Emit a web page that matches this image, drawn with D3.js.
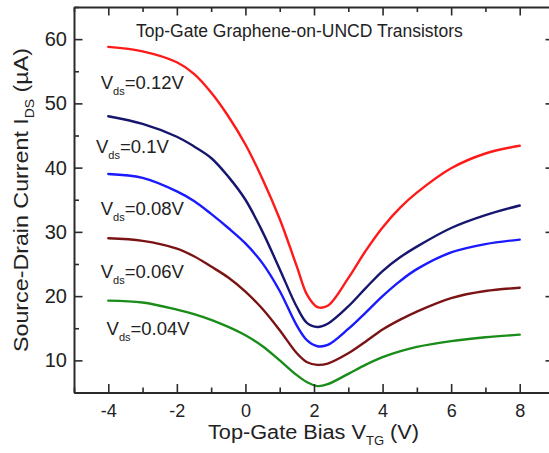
<!DOCTYPE html>
<html>
<head>
<meta charset="utf-8">
<script src="https://cdn.jsdelivr.net/npm/d3@7"></script>
<style>
  html, body { margin: 0; padding: 0; background: #fff; }
  svg { display: block; font-family: "Liberation Sans", Arial, Helvetica, sans-serif; }
</style>
</head>
<body>
<svg id="chart" width="549" height="453"></svg>
<script>
// Top-gate bias sweep (V)
const gateBias = [-4, -3, -2, -1.5, -1, -0.5, 0, 0.5, 1, 1.5, 1.8, 2.1, 2.4, 3, 3.5, 4, 4.5, 5, 6, 7, 8];

// Source-drain current (µA) for each drain bias
const ids012 = [58.8, 58.1, 56.4, 54.6, 51.7, 48.0, 43.6, 38.2, 32.0, 24.6, 20.2, 18.3, 18.5, 22.8, 27.0, 30.7, 33.7, 36.1, 39.9, 42.2, 43.4];
const ids010 = [48.0, 46.8, 44.8, 43.3, 41.5, 38.6, 35.0, 30.0, 24.2, 18.3, 15.8, 15.2, 15.7, 18.4, 21.2, 23.9, 26.0, 27.7, 30.6, 32.6, 34.1];
const ids008 = [39.0, 38.4, 36.3, 34.8, 32.8, 30.6, 28.2, 25.1, 20.8, 15.4, 13.1, 12.2, 12.4, 14.9, 17.4, 20.0, 22.3, 24.2, 26.8, 28.1, 28.8];
const ids006 = [29.0, 28.6, 27.4, 26.2, 24.6, 22.9, 20.7, 18.0, 14.7, 11.1, 9.7, 9.3, 9.5, 11.1, 12.9, 14.8, 16.3, 17.6, 19.7, 20.8, 21.3];
const ids004 = [19.3, 19.0, 17.9, 17.2, 16.3, 15.2, 13.9, 12.2, 10.0, 7.7, 6.6, 6.0, 6.3, 7.9, 9.3, 10.5, 11.4, 12.1, 13.0, 13.6, 14.0];

const seriesNames = ["0.12V", "0.1V", "0.08V", "0.06V", "0.04V"];
const seriesColors = ["#ff1a1a", "#16166e", "#1a1aff", "#7a1414", "#1a8c1a"];
const seriesValues = [ids012, ids010, ids008, ids006, ids004];

const xTicks = [-4, -2, 0, 2, 4, 6, 8];
const yTicks = [10, 20, 30, 40, 50, 60];

const chartTitle = "Top-Gate Graphene-on-UNCD Transistors";

// Label anchors in data units (gate bias, current) at each label's baseline start
const labelPos = [[-4.22, 52.2], [-4.36, 42.2], [-4.22, 32.7], [-4.22, 22.8], [-4.05, 13.9]];

const svg = d3.select("#chart");
const x = d3.scaleLinear().domain([-5, 9]).range([74, 554]);
const y = d3.scaleLinear().domain([5, 65]).range([392.5, 7]);

const axisColor = "#2b2b2b";
const textColor = "#222";

// Curves
const line = d3.line()
  .x(d => x(d[0]))
  .y(d => y(d[1]))
  .curve(d3.curveCatmullRom.alpha(0.5));

seriesValues.forEach((vals, i) => {
  svg.append("path")
    .datum(gateBias.map((g, j) => [g, vals[j]]))
    .attr("fill", "none")
    .attr("stroke", seriesColors[i])
    .attr("stroke-width", 2.4)
    .attr("stroke-linejoin", "round")
    .attr("stroke-linecap", "round")
    .attr("d", line);
});

// Axes with inward ticks on all four sides
function styleAxis(g) {
  g.selectAll("path").attr("stroke", axisColor).attr("stroke-width", 2);
  g.selectAll("line").attr("stroke", axisColor).attr("stroke-width", 1.6);
  g.selectAll("text").attr("fill", textColor);
}
const plain = d => String(d);
const xMinor = d3.range(-5, 10, 1).filter(v => !xTicks.includes(v));
const yMinor = d3.range(5, 70, 5).filter(v => !yTicks.includes(v));

// bottom
const gB = svg.append("g").attr("transform", `translate(0,${y(5)})`)
  .call(d3.axisBottom(x).tickValues(xTicks).tickSize(-8.5).tickSizeOuter(0).tickPadding(12).tickFormat(plain));
gB.selectAll("text").style("font-size", "18px").attr("dy", "0.71em");
styleAxis(gB);
svg.append("g").attr("transform", `translate(0,${y(5)})`)
  .call(d3.axisBottom(x).tickValues(xMinor).tickSize(-5).tickSizeOuter(0).tickFormat(""))
  .call(g => g.select("path").remove()).call(styleAxis);

// top
const gT = svg.append("g").attr("transform", `translate(0,${y(65)})`)
  .call(d3.axisTop(x).tickValues(xTicks).tickSize(-8.5).tickSizeOuter(0).tickFormat(""));
styleAxis(gT);
svg.append("g").attr("transform", `translate(0,${y(65)})`)
  .call(d3.axisTop(x).tickValues(xMinor).tickSize(-5).tickSizeOuter(0).tickFormat(""))
  .call(g => g.select("path").remove()).call(styleAxis);

// left
const gL = svg.append("g").attr("transform", `translate(${x(-5)},0)`)
  .call(d3.axisLeft(y).tickValues(yTicks).tickSize(-8.5).tickSizeOuter(0).tickPadding(7).tickFormat(plain));
gL.selectAll("text").style("font-size", "20px");
styleAxis(gL);
svg.append("g").attr("transform", `translate(${x(-5)},0)`)
  .call(d3.axisLeft(y).tickValues(yMinor).tickSize(-5).tickSizeOuter(0).tickFormat(""))
  .call(g => g.select("path").remove()).call(styleAxis);

// right
const gR = svg.append("g").attr("transform", `translate(${x(9)},0)`)
  .call(d3.axisRight(y).tickValues(yTicks).tickSize(-8.5).tickSizeOuter(0).tickFormat(""));
styleAxis(gR);
svg.append("g").attr("transform", `translate(${x(9)},0)`)
  .call(d3.axisRight(y).tickValues(yMinor).tickSize(-5).tickSizeOuter(0).tickFormat(""))
  .call(g => g.select("path").remove()).call(styleAxis);

// Title inside the frame
svg.append("text")
  .attr("x", 136).attr("y", 37)
  .attr("fill", textColor)
  .style("font-size", "17.5px")
  .text(chartTitle);

// Series labels: V_ds=...
seriesNames.forEach((name, i) => {
  const t = svg.append("text")
    .attr("x", x(labelPos[i][0]))
    .attr("y", y(labelPos[i][1]))
    .attr("fill", textColor)
    .style("font-size", "18.5px");
  t.append("tspan").text("V");
  t.append("tspan").attr("dy", 6).style("font-size", "11px").text("ds");
  t.append("tspan").attr("dy", -6).text("=" + name);
});

// X axis title
const xt = svg.append("text")
  .attr("x", 208).attr("y", 439)
  .attr("fill", textColor)
  .style("font-size", "20px")
  .attr("textLength", 211)
  .attr("lengthAdjust", "spacingAndGlyphs");
xt.append("tspan").text("Top-Gate Bias V");
xt.append("tspan").attr("dy", 6).style("font-size", "12px").text("TG");
xt.append("tspan").attr("dy", -6).text(" (V)");

// Y axis title
const yt = svg.append("text")
  .attr("transform", "translate(28,352) rotate(-90)")
  .attr("x", 0).attr("y", 0)
  .attr("fill", textColor)
  .style("font-size", "20px")
  .attr("textLength", 304)
  .attr("lengthAdjust", "spacingAndGlyphs");
yt.append("tspan").text("Source-Drain Current I");
yt.append("tspan").attr("dy", 6).style("font-size", "12px").text("DS");
yt.append("tspan").attr("dy", -6).text(" (\u00b5A)");
</script>
</body>
</html>
